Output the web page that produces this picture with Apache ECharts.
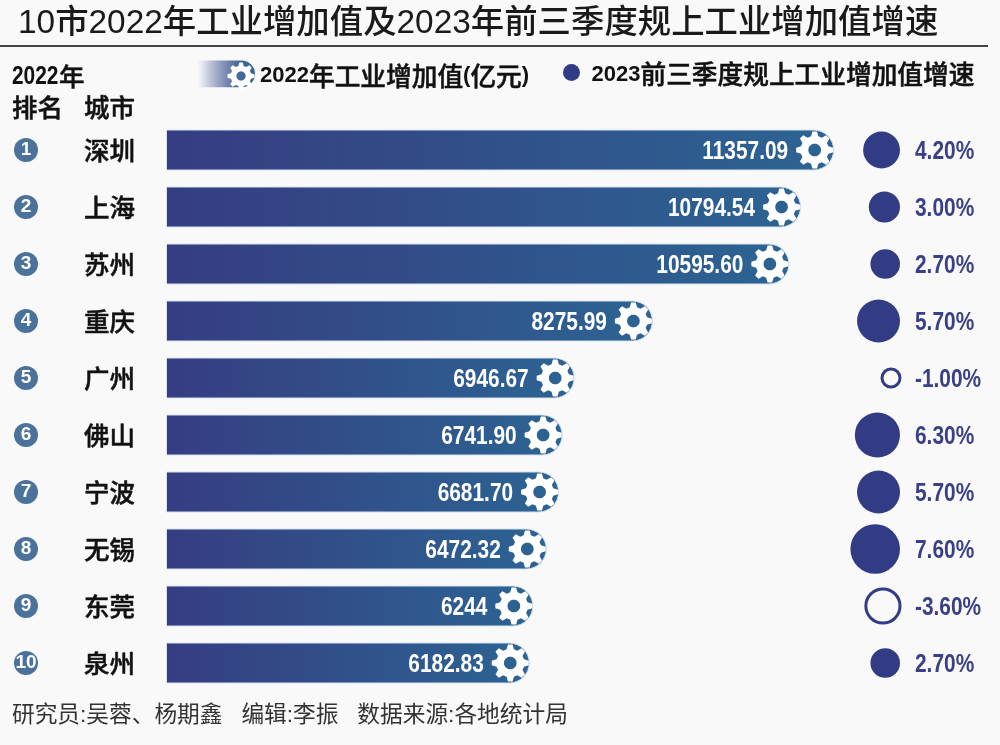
<!DOCTYPE html>
<html>
<head>
<meta charset="utf-8">
<title>10市工业增加值</title>
<style>
    html, body { margin: 0; padding: 0; background: #f9f9fa; }
    #main { width: 1000px; height: 745px; }
</style>
<script src="https://cdn.jsdelivr.net/npm/echarts@6/dist/echarts.min.js"></script>
</head>
<body>
<div id="main"></div>
<script>
// 数据
var ranks = ['1', '2', '3', '4', '5', '6', '7', '8', '9', '10'];
var cities = ['深圳', '上海', '苏州', '重庆', '广州', '佛山', '宁波', '无锡', '东莞', '泉州'];
var addedValue = [11357.09, 10794.54, 10595.60, 8275.99, 6946.67, 6741.90, 6681.70, 6472.32, 6244, 6182.83];
var addedValueLabels = ['11357.09', '10794.54', '10595.60', '8275.99', '6946.67', '6741.90', '6681.70', '6472.32', '6244', '6182.83'];
var growthRate = [4.2, 3.0, 2.7, 5.7, -1.0, 6.3, 5.7, 7.6, -3.6, 2.7];
var growthLabels = ['4.20%', '3.00%', '2.70%', '5.70%', '-1.00%', '6.30%', '5.70%', '7.60%', '-3.60%', '2.70%'];

var barName = '2022年工业增加值(亿元)';
var dotName = '2023前三季度规上工业增加值增速';
var gearName = '齿轮';

var bgColor = '#f9f9fa';
var dotColor = '#323c85';
var cjk = '"Noto Sans CJK SC"';
var latin = '"Liberation Sans"';

// 齿轮图标
function gearPath() {
    var teeth = 8, R = 50, root = 38, hole = 17;
    var step = Math.PI * 2 / teeth;
    var pts = [];
    for (var i = 0; i < teeth; i++) {
        var a = i * step - Math.PI / 2;
        pts.push([a - step * 0.33, root], [a - step * 0.16, R], [a + step * 0.16, R], [a + step * 0.33, root]);
    }
    var d = pts.map(function(p, n) {
        return (n ? 'L' : 'M') + (50 + p[1] * Math.cos(p[0])).toFixed(2) + ' ' + (50 + p[1] * Math.sin(p[0])).toFixed(2);
    }).join(' ') + ' Z ';
    for (var k = 0; k < 36; k++) {
        var b = -k * Math.PI * 2 / 36;
        d += (k ? 'L' : 'M') + (50 + hole * Math.cos(b)).toFixed(2) + ' ' + (50 + hole * Math.sin(b)).toFixed(2) + ' ';
    }
    return d + 'Z';
}
var gear = 'path://' + gearPath();

var rowLabels = cities.map(function(c, i) {
    return '{rank|' + ranks[i] + '}{city|' + c + '}';
});

// 图例文字:数字和汉字分开设字号
function legendText(name) {
    return name.replace(/[0-9()]+|[^0-9()]+/g, function(s) {
        return (/[0-9()]/.test(s) ? '{d|' : '{c|') + s + '}';
    });
}
var legendStyle = {
    rich: {
        d: { fontFamily: latin, fontWeight: 'bold', fontSize: 22, color: '#111', padding: [4, 0, 0, 0] },
        c: { fontFamily: cjk, fontWeight: 500, fontSize: 25.7, color: '#111', padding: [4, 0, 0, 0], textBorderColor: '#111', textBorderWidth: 0.5 }
    }
};

// 窄体数字:原图数字是窄体,横向压缩
function narrowText(x, y, text, align, color) {
    return {
        type: 'text',
        x: x,
        y: y + 2,
        scaleX: 0.835,
        style: {
            text: text,
            textAlign: align,
            textVerticalAlign: 'middle',
            fill: color,
            font: 'bold 25px ' + latin
        }
    };
}

// 表头汉字
function headText(x, y, text) {
    return {
        type: 'text',
        x: x,
        y: y,
        style: {
            text: text,
            fill: '#111',
            stroke: '#111',
            lineWidth: 0.5,
            font: '500 25.5px ' + cjk,
            textVerticalAlign: 'middle'
        }
    };
}

var chart = echarts.init(document.getElementById('main'));

var option = {
    animation: false,
    backgroundColor: bgColor,
    title: {
        text: '10市2022年工业增加值及2023年前三季度规上工业增加值增速',
        left: 18,
        top: 7,
        padding: 0,
        textStyle: {
            fontFamily: latin + ', ' + cjk,
            fontSize: 33.4,
            fontWeight: 500,
            color: '#1a1a1a'
        }
    },
    legend: [{
        left: 198,
        top: 60.5,
        padding: 0,
        selectedMode: false,
        itemWidth: 57,
        itemHeight: 27,
        formatter: legendText,
        textStyle: legendStyle,
        data: [{
            name: barName,
            icon: 'path://M0 0 H44 A13.5 13.5 0 0 1 44 27 H0 Z',
            itemStyle: {
                borderWidth: 0,
                color: new echarts.graphic.LinearGradient(0, 0, 1, 0, [
                    { offset: 0, color: 'rgba(54,61,130,0)' },
                    { offset: 0.7, color: '#4a6a9a' },
                    { offset: 1, color: '#2c6493' }
                ])
            }
        }]
    }, {
        left: 563,
        top: 61.5,
        padding: 0,
        selectedMode: false,
        itemWidth: 30,
        itemHeight: 17,
        formatter: legendText,
        textStyle: legendStyle,
        data: [{ name: dotName, icon: 'circle', itemStyle: { color: dotColor, borderWidth: 0, opacity: 1 } }]
    }, {
        left: 227.5,
        top: 62.5,
        padding: 0,
        selectedMode: false,
        itemWidth: 27,
        itemHeight: 27,
        z: 20,
        formatter: function() {
            return '';
        },
        data: [{ name: gearName, icon: gear, itemStyle: { color: '#fff', borderWidth: 0 } }]
    }],
    grid: [
        { left: 166, top: 121.5, width: 706, height: 570, outerBoundsMode: 'none' },
        { left: 850, top: 121.5, width: 50, height: 570, outerBoundsMode: 'none' }
    ],
    xAxis: [
        { type: 'value', gridIndex: 0, min: 0, max: 12000, show: false },
        { type: 'value', gridIndex: 1, min: 0, max: 1, show: false }
    ],
    yAxis: [{
        type: 'category',
        gridIndex: 0,
        inverse: true,
        data: rowLabels,
        axisLine: { show: false },
        axisTick: { show: false },
        axisLabel: {
            interval: 0,
            align: 'left',
            margin: 152,
            rich: {
                rank: {
                    width: 24,
                    height: 24,
                    align: 'center',
                    borderRadius: 12,
                    backgroundColor: '#4a729b',
                    color: '#fff',
                    fontFamily: latin,
                    fontWeight: 'bold',
                    fontSize: 19
                },
                city: {
                    padding: [0, 0, 0, 46],
                    color: '#111',
                    fontFamily: cjk,
                    fontWeight: 500,
                    fontSize: 25.5,
                    textBorderColor: '#111',
                    textBorderWidth: 0.5
                }
            }
        }
    }, {
        type: 'category',
        gridIndex: 1,
        inverse: true,
        data: cities,
        show: false
    }],
    series: [{
        name: barName,
        type: 'bar',
        barWidth: 41,
        data: addedValue,
        itemStyle: {
            borderRadius: [0, 20.5, 20.5, 0],
            borderColor: '#d5e2ee',
            borderWidth: 1,
            color: new echarts.graphic.LinearGradient(0, 0, 1, 0, [
                { offset: 0, color: '#363d82' },
                { offset: 1, color: '#2c6493' }
            ])
        }
    }, {
        name: gearName,
        type: 'scatter',
        silent: true,
        clip: false,
        z: 5,
        symbol: gear,
        symbolSize: 37,
        symbolOffset: [-19.5, 0],
        itemStyle: { color: '#fff', opacity: 1 },
        data: addedValue.map(function(v, i) {
            return [v, i];
        })
    }, {
        name: '数值',
        type: 'custom',
        silent: true,
        clip: false,
        z: 6,
        encode: { x: 0, y: 1 },
        data: addedValue.map(function(v, i) {
            return [v, i];
        }),
        renderItem: function(params, api) {
            var p = api.coord([api.value(0), api.value(1)]);
            return narrowText(p[0] - 46, p[1], addedValueLabels[params.dataIndex], 'right', '#fff');
        }
    }, {
        name: dotName,
        type: 'scatter',
        xAxisIndex: 1,
        yAxisIndex: 1,
        clip: false,
        itemStyle: { color: dotColor, opacity: 1 },
        data: growthRate.map(function(v, i) {
            var r = 9 * Math.sqrt(Math.abs(v));
            return {
                value: [1, i],
                symbolSize: r * 2,
                symbolOffset: [-r, 0],
                itemStyle: v < 0
                    ? { color: bgColor, borderColor: dotColor, borderWidth: 3, opacity: 1 }
                    : { color: dotColor, opacity: 1 }
            };
        })
    }, {
        name: '增速',
        type: 'custom',
        silent: true,
        clip: false,
        xAxisIndex: 1,
        yAxisIndex: 1,
        encode: { x: 0, y: 1 },
        data: growthLabels.map(function(v, i) {
            return [1, i];
        }),
        renderItem: function(params, api) {
            var p = api.coord([api.value(0), api.value(1)]);
            return narrowText(p[0] + 15, p[1], growthLabels[params.dataIndex], 'left', '#3a4085');
        }
    }],
    graphic: [{
        type: 'rect',
        shape: { x: 0, y: 45, width: 988, height: 2 },
        style: { fill: '#444' }
    },
    narrowText(12, 75, '2022', 'left', '#111'),
    headText(59, 76, '年'),
    headText(12, 107, '排名'),
    headText(84, 107, '城市'),
    {
        type: 'text',
        x: 12, y: 716,
        style: { text: '研究员:吴蓉、杨期鑫   编辑:李振   数据来源:各地统计局', fill: '#333', font: '22.7px ' + latin + ', ' + cjk, textVerticalAlign: 'middle' }
    }]
};

chart.setOption(option);

window.addEventListener('resize', function() {
    chart.resize();
});
</script>
</body>
</html>
